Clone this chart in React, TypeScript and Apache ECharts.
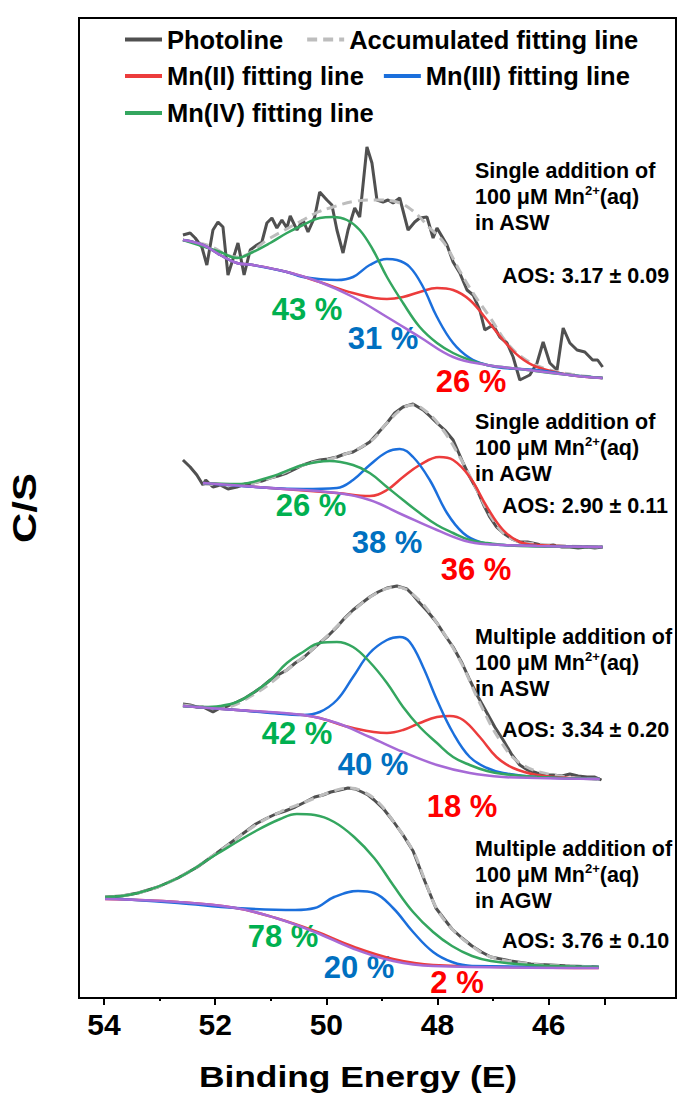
import React, { useEffect, useRef } from "react";
import * as echarts from "echarts";

const FONT = '"Liberation Sans", Arial, sans-serif';

// ---- Data: [binding energy (eV), C/S (stacked, offset)] ----
// Block 1: single addition, ASW
const aswSinglePhoto = [[52.58,763],[52.45,765],[52.36,760],[52.24,751],[52.15,733],[52.04,768],[51.95,776],[51.86,771],[51.77,723],[51.64,746],[51.59,755],[51.48,723],[51.37,748],[51.25,753],[51.16,756],[51.07,775],[50.98,780],[50.89,770],[50.80,778],[50.71,770],[50.65,782],[50.53,768],[50.42,778],[50.33,766],[50.21,781],[50.12,806],[49.99,798],[49.90,793],[49.81,768],[49.70,745],[49.61,768],[49.49,790],[49.40,781],[49.27,851],[49.18,835],[49.09,798],[48.98,796],[48.89,798],[48.80,795],[48.68,800],[48.53,768],[48.41,776],[48.32,780],[48.19,781],[48.08,760],[48.01,770],[47.83,753],[47.72,736],[47.60,725],[47.47,708],[47.36,703],[47.24,688],[47.15,668],[47.00,673],[46.88,661],[46.75,655],[46.64,641],[46.52,618],[46.34,623],[46.21,635],[46.10,656],[45.98,635],[45.85,628],[45.74,670],[45.62,655],[45.49,648],[45.35,646],[45.21,638],[45.12,638],[45.03,631]];
const aswSingleAcc = [[52.58,758],[52.15,753],[51.61,741],[51.01,760],[50.42,778],[50.15,786],[49.94,790],[49.45,797],[49.09,798],[48.73,796],[48.44,787],[48.14,770],[47.88,755],[47.60,727],[47.36,705],[47.05,680],[46.75,655],[46.46,640],[46.10,630],[45.62,624],[45.03,620]];
const aswSingleMn2 = [[52.58,758],[52.22,753],[51.91,743],[51.61,735],[51.32,733],[50.71,726],[50.12,716],[49.52,705],[48.91,699],[48.62,701],[48.32,706],[48.01,710],[47.72,708],[47.42,698],[47.11,678],[46.82,658],[46.52,641],[46.21,631],[45.62,623],[45.03,620]];
const aswSingleMn3 = [[52.58,758],[52.22,753],[51.91,743],[51.61,735],[51.32,733],[50.71,726],[50.42,721],[49.81,718],[49.52,721],[49.22,733],[48.91,739],[48.73,738],[48.50,731],[48.26,711],[48.01,681],[47.72,655],[47.42,640],[47.11,633],[46.82,630],[46.21,628],[45.62,623],[45.03,620]];
const aswSingleMn4 = [[52.58,758],[51.91,746],[51.61,740],[51.32,746],[51.01,755],[50.71,765],[50.42,773],[50.12,780],[49.88,781],[49.63,778],[49.40,768],[49.16,748],[48.91,721],[48.62,695],[48.32,671],[48.01,655],[47.72,645],[47.42,638],[47.11,633],[46.52,629],[45.62,623],[45.03,620]];
const aswSingleBase = [[52.58,758],[52.22,753],[51.91,743],[51.61,735],[51.32,733],[50.71,726],[50.12,716],[49.52,701],[48.91,681],[48.32,661],[47.72,641],[47.11,633],[46.52,629],[45.92,625],[45.31,621],[45.03,620]];

// Block 2: single addition, AGW
const agwSinglePhoto = [[52.58,538],[52.45,531],[52.33,523],[52.22,513],[52.17,518],[52.04,511],[51.91,513],[51.77,509],[51.61,511],[51.46,514],[51.32,515],[51.16,517],[51.01,520],[50.87,522],[50.71,525],[50.56,529],[50.42,533],[50.26,536],[50.12,538],[49.97,539],[49.81,541],[49.67,544],[49.52,546],[49.36,551],[49.22,556],[49.07,565],[48.91,575],[48.77,585],[48.62,591],[48.44,594],[48.26,588],[48.14,582],[48.01,575],[47.87,568],[47.72,558],[47.54,535],[47.42,521],[47.29,508],[47.17,493],[47.06,481],[46.94,471],[46.82,465],[46.66,459],[46.52,456],[46.38,456],[46.21,454],[46.07,452],[45.92,453],[45.76,451],[45.62,451],[45.47,450],[45.31,451],[45.17,450],[45.03,451]];
const agwSingleAcc = [[52.22,514],[51.61,513],[51.01,520],[50.42,533],[49.81,541],[49.22,556],[48.91,575],[48.62,590],[48.44,593],[48.19,586],[47.90,568],[47.60,541],[47.29,508],[47.00,478],[46.70,460],[46.21,454],[45.03,451]];
const agwSingleMn2 = [[52.22,515],[51.01,510],[49.81,505],[49.22,502],[48.91,508],[48.62,521],[48.32,533],[47.97,541],[47.72,538],[47.42,521],[47.11,491],[46.82,468],[46.52,456],[46.21,453],[45.03,451]];
const agwSingleMn3 = [[52.22,515],[51.01,510],[50.42,509],[49.81,510],[49.52,518],[49.22,533],[48.91,546],[48.68,549],[48.44,541],[48.14,518],[47.83,485],[47.54,465],[47.24,456],[46.82,453],[46.21,452],[45.03,451]];
const agwSingleMn4 = [[52.22,515],[51.61,514],[51.01,521],[50.42,533],[49.94,537],[49.52,533],[49.22,525],[48.91,511],[48.62,498],[48.32,485],[48.01,473],[47.72,465],[47.42,458],[47.11,455],[46.52,452],[45.03,451]];
const agwSingleBase = [[52.22,515],[51.01,510],[49.81,505],[49.22,498],[48.62,483],[48.01,468],[47.42,456],[46.82,453],[46.21,452],[45.03,451]];

// Block 3: multiple addition, ASW
const aswMultiPhoto = [[52.58,294],[52.45,293],[52.33,291],[52.22,291],[52.04,286],[51.91,290],[51.77,292],[51.61,296],[51.46,300],[51.32,305],[51.16,311],[51.01,318],[50.87,323],[50.71,328],[50.56,335],[50.42,340],[50.26,348],[50.12,355],[49.97,362],[49.81,371],[49.67,380],[49.52,388],[49.36,395],[49.22,401],[49.07,406],[48.91,410],[48.73,412],[48.55,409],[48.44,403],[48.32,395],[48.17,386],[48.01,375],[47.87,363],[47.72,351],[47.56,335],[47.42,318],[47.27,301],[47.11,285],[46.97,271],[46.82,258],[46.66,243],[46.52,233],[46.38,228],[46.21,225],[46.07,223],[45.92,223],[45.76,222],[45.62,224],[45.47,222],[45.31,221],[45.17,221],[45.05,218]];
const aswMultiAcc = [[52.58,293],[51.91,290],[51.32,303],[50.71,328],[50.12,355],[49.52,387],[49.09,405],[48.73,411],[48.37,400],[48.01,375],[47.60,338],[47.24,295],[46.88,258],[46.52,235],[45.92,223],[45.08,219]];
const aswMultiMn2 = [[52.58,292],[51.61,288],[50.42,283],[50.12,280],[49.52,270],[48.91,265],[48.62,268],[48.32,275],[48.01,281],[47.78,282],[47.54,278],[47.24,261],[46.94,241],[46.64,230],[46.21,223],[45.62,220],[45.08,219]];
const aswMultiMn3 = [[52.58,292],[51.61,288],[51.01,285],[50.42,283],[50.12,286],[49.81,298],[49.52,321],[49.22,345],[48.91,358],[48.68,361],[48.50,356],[48.26,331],[48.01,298],[47.72,265],[47.42,241],[47.11,230],[46.82,225],[46.21,221],[45.08,219]];
const aswMultiMn4 = [[52.58,292],[52.22,291],[51.91,292],[51.61,296],[51.32,305],[51.01,318],[50.71,335],[50.42,346],[50.12,355],[49.81,356],[49.52,351],[49.22,336],[48.91,315],[48.62,291],[48.32,271],[48.01,255],[47.72,241],[47.42,233],[47.11,227],[46.82,224],[46.21,221],[45.08,219]];
const aswMultiBase = [[52.58,292],[51.61,288],[50.42,283],[49.81,275],[49.22,261],[48.62,246],[48.01,233],[47.42,225],[46.82,221],[46.21,220],[45.08,219]];

// Block 4: multiple addition, AGW
const agwMultiPhoto = [[53.98,101],[53.68,102],[53.39,105],[53.03,111],[52.67,120],[52.32,131],[51.97,145],[51.63,159],[51.27,174],[51.10,179],[50.91,184],[50.74,187],[50.56,191],[50.38,196],[50.21,201],[50.06,203],[49.92,206],[49.76,208],[49.61,210],[49.48,209],[49.36,206],[49.25,203],[49.14,198],[48.97,189],[48.80,177],[48.62,163],[48.44,147],[48.23,117],[48.03,90],[47.88,79],[47.74,69],[47.56,60],[47.38,52],[47.21,46],[47.04,41],[46.68,37],[46.32,34],[45.97,33],[45.62,32],[45.10,31]];
const agwMultiAcc = [[53.98,101],[53.39,105],[52.67,120],[51.97,145],[51.27,173],[50.83,186],[50.38,196],[49.92,206],[49.61,210],[49.36,207],[49.07,196],[48.80,177],[48.44,147],[48.23,118],[48.03,91],[47.74,69],[47.38,52],[47.04,41],[46.32,34],[45.62,32],[45.10,31]];
const agwMultiMn2 = [[53.98,99],[52.67,96],[51.63,90],[50.91,80],[50.21,67],[49.50,51],[48.80,39],[48.08,33],[45.10,30]];
const agwMultiMn3 = [[53.98,100],[52.67,95],[51.63,90],[50.56,88],[50.21,90],[49.86,101],[49.43,107],[49.14,105],[48.80,90],[48.44,66],[48.08,46],[47.74,36],[47.38,32],[45.10,31]];
const agwMultiMn4 = [[53.98,101],[53.39,105],[52.67,120],[51.97,144],[51.27,167],[50.83,179],[50.53,184],[50.21,183],[49.86,176],[49.50,161],[49.14,140],[48.80,113],[48.44,86],[48.08,66],[47.74,52],[47.38,42],[47.04,37],[46.32,33],[45.10,31]];
const agwMultiBase = [[53.98,99],[52.67,96],[51.63,90],[50.91,80],[50.21,66],[49.50,49],[48.80,37],[48.08,32],[45.10,30]];

// ---- Labels ----
const seriesNames = ["Photoline", "Accumulated fitting line", "Mn(II) fitting line", "Mn(III) fitting line", "Mn(IV) fitting line"];
const legendRow1 = ["Photoline", "Accumulated fitting line"];
const legendRow2 = ["Mn(II) fitting line", "Mn(III) fitting line"];
const legendRow3 = ["Mn(IV) fitting line"];
const xMajorTicks = [54, 52, 50, 48, 46, 45];
const xMinorTicks = [53, 51, 49, 47];
const xTickLabels = [54, 52, 50, 48, 46];
const sampleLine1 = ["Single addition of", "Single addition of", "Multiple addition of", "Multiple addition of"];
const sampleLine2 = ["100 μM Mn{sup|2+}(aq)", "100 μM Mn{sup|2+}(aq)", "100 μM Mn{sup|2+}(aq)", "100 μM Mn{sup|2+}(aq)"];
const sampleLine3 = ["in ASW", "in AGW", "in ASW", "in AGW"];
const aosValues = ["3.17 ± 0.09", "2.90 ± 0.11", "3.34 ± 0.20", "3.76 ± 0.10"];
const pctMnIV = [43, 26, 42, 78];
const pctMnIII = [31, 38, 40, 20];
const pctMnII = [26, 36, 18, 2];

// ---- Layout (pixels) ----
const titleTopY = [158, 409, 624, 836];
const aosY = [275.5, 505.5, 729.5, 941];
const pctIVPos = [[307, 309], [311, 505], [297, 733], [283, 936]];
const pctIIIPos = [[383, 338], [387, 542], [373, 764], [359, 967]];
const pctIIPos = [[471, 381], [476, 569], [462, 806], [457, 982]];

const COLORS = {
  photo: "#505050",
  acc: "#bdbdbd",
  mn2: "#ec3c3c",
  mn3: "#1b6fdc",
  mn4: "#34a65f",
  base: "#a66ad6",
};

function blockSeries(photo: number[][], acc: number[][], mn2: number[][], mn3: number[][], mn4: number[][], base: number[][]) {
  const common = { type: "line", symbol: "none", showSymbol: false, animation: false, silent: true };
  return [
    { ...common, name: seriesNames[0], data: photo, z: 2, color: COLORS.photo, lineStyle: { color: COLORS.photo, width: 3 } },
    { ...common, name: seriesNames[1], data: acc, z: 3, smooth: 0.4, color: COLORS.acc, lineStyle: { color: COLORS.acc, width: 3, type: [10, 6] } },
    { ...common, name: seriesNames[2], data: mn2, z: 4, smooth: 0.4, color: COLORS.mn2, lineStyle: { color: COLORS.mn2, width: 2.5 } },
    { ...common, name: seriesNames[3], data: mn3, z: 4, smooth: 0.4, color: COLORS.mn3, lineStyle: { color: COLORS.mn3, width: 2.5 } },
    { ...common, name: seriesNames[4], data: mn4, z: 4, smooth: 0.4, color: COLORS.mn4, lineStyle: { color: COLORS.mn4, width: 2.5 } },
    { ...common, name: "Background", data: base, z: 5, smooth: 0.4, color: COLORS.base, lineStyle: { color: COLORS.base, width: 2.5 } },
  ];
}

function textEl(text: string, x: number, y: number, color: string, size: number, align = "center", valign = "middle", extra: any = {}) {
  return {
    type: "text",
    x,
    y,
    silent: true,
    ...extra,
    style: {
      text,
      fill: color,
      fontSize: size,
      fontWeight: "bold",
      fontFamily: FONT,
      align,
      verticalAlign: valign,
      textAlign: align,
      textVerticalAlign: valign,
    },
  };
}

export default function App() {
  const ref = useRef<HTMLDivElement>(null);

  useEffect(() => {
    if (!ref.current) return;
    const chart = echarts.init(ref.current, null, { renderer: "svg" });

    const series = [
      ...blockSeries(aswSinglePhoto, aswSingleAcc, aswSingleMn2, aswSingleMn3, aswSingleMn4, aswSingleBase),
      ...blockSeries(agwSinglePhoto, agwSingleAcc, agwSingleMn2, agwSingleMn3, agwSingleMn4, agwSingleBase),
      ...blockSeries(aswMultiPhoto, aswMultiAcc, aswMultiMn2, aswMultiMn3, aswMultiMn4, aswMultiBase),
      ...blockSeries(agwMultiPhoto, agwMultiAcc, agwMultiMn2, agwMultiMn3, agwMultiMn4, agwMultiBase),
    ];

    const legendBase = {
      orient: "horizontal",
      itemWidth: 37,
      itemHeight: 14,
      padding: 0,
      selectedMode: false,
      itemStyle: { opacity: 0 },
      lineStyle: { width: 4 },
      textStyle: { fontSize: 25.5, fontWeight: "bold", fontFamily: FONT, color: "#000" },
    };

    const graphics: any[] = [];
    for (let i = 0; i < 4; i++) {
      graphics.push({
        type: "text",
        x: 475,
        y: titleTopY[i],
        silent: true,
        style: {
          text: [sampleLine1[i], sampleLine2[i], sampleLine3[i]].join("\n"),
          fill: "#000",
          fontSize: 21.5,
          fontWeight: "bold",
          fontFamily: FONT,
          lineHeight: 26,
          align: "left",
          verticalAlign: "top",
          rich: {
            sup: { fontSize: 13, fontWeight: "bold", fontFamily: FONT, fill: "#000", verticalAlign: "top", lineHeight: 14 },
          },
        },
      });
      graphics.push(textEl("AOS: " + aosValues[i], 502, aosY[i], "#000", 21.5, "left", "middle"));
      graphics.push(textEl(pctMnIV[i] + " %", pctIVPos[i][0], pctIVPos[i][1], "#00B050", 31));
      graphics.push(textEl(pctMnIII[i] + " %", pctIIIPos[i][0], pctIIIPos[i][1], "#0070C0", 31));
      graphics.push(textEl(pctMnII[i] + " %", pctIIPos[i][0], pctIIPos[i][1], "#FF0000", 31));
    }
    graphics.push(textEl("Binding Energy (E)", 358, 1077, "#000", 29, "center", "middle", { scaleX: 1.22 }));
    graphics.push(textEl("C/S", 25, 508, "#000", 33.5, "center", "middle", { rotation: Math.PI / 2, scaleX: 1.25 }));

    chart.setOption({
      animation: false,
      grid: { left: 79, right: 2, top: 18, bottom: 97, show: true, borderColor: "#000", borderWidth: 2, backgroundColor: "transparent" },
      legend: [
        { ...legendBase, data: legendRow1, left: 123, top: 26.5, itemGap: 22 },
        { ...legendBase, data: legendRow2, left: 123, top: 63, itemGap: 18 },
        { ...legendBase, data: legendRow3, left: 123, top: 100 },
      ],
      xAxis: [
        {
          type: "value",
          min: 43.71,
          max: 54.45,
          inverse: true,
          position: "bottom",
          axisLine: { show: true, onZero: false, lineStyle: { color: "#000", width: 2 } },
          axisTick: { show: true, length: 7, lineStyle: { color: "#000", width: 2 }, customValues: xMajorTicks },
          axisLabel: { show: true, customValues: xTickLabels, fontSize: 30, fontWeight: "bold", fontFamily: FONT, color: "#000", margin: 11 },
          splitLine: { show: false },
        },
        {
          type: "value",
          min: 43.71,
          max: 54.45,
          inverse: true,
          position: "bottom",
          axisLine: { show: false, onZero: false },
          axisTick: { show: true, length: 3, lineStyle: { color: "#000", width: 2 }, customValues: xMinorTicks },
          axisLabel: { show: false },
          splitLine: { show: false },
        },
      ],
      yAxis: {
        type: "value",
        min: 0,
        max: 980,
        axisLine: { show: true, lineStyle: { color: "#000", width: 2 } },
        axisTick: { show: false },
        axisLabel: { show: false },
        splitLine: { show: false },
      },
      series,
      graphic: graphics,
    });

    return () => chart.dispose();
  }, []);

  return <div ref={ref} style={{ position: "fixed", left: 0, top: 0, width: 678, height: 1095, background: "#fff" }} />;
}
